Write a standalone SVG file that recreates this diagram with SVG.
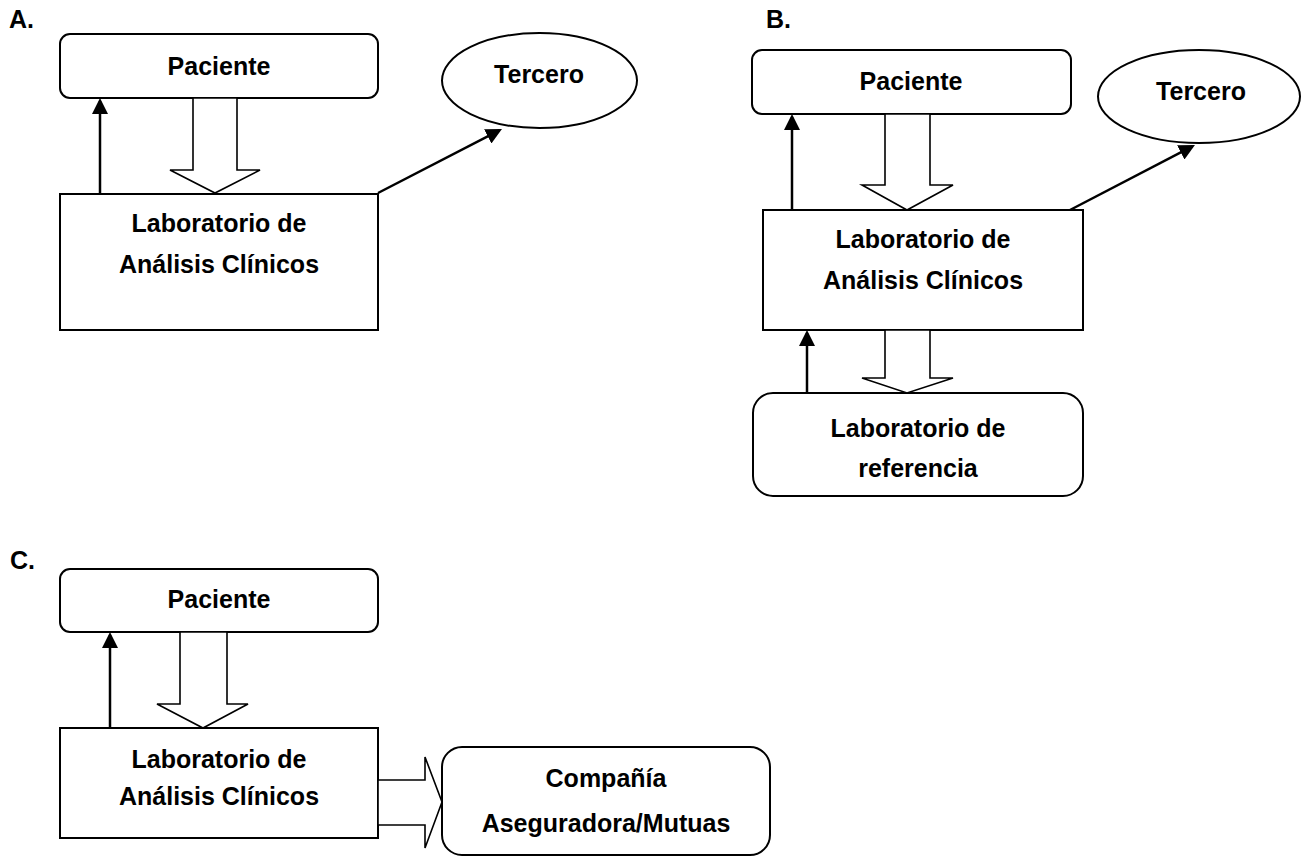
<svg xmlns="http://www.w3.org/2000/svg" width="1310" height="857" viewBox="0 0 1310 857">
<style>
  .box{fill:#fff;stroke:#000;stroke-width:2}
  .blk{fill:#fff;stroke:#000;stroke-width:1.6;stroke-linejoin:miter}
  .ln{fill:none;stroke:#000;stroke-width:2.5}
  text{font-family:"Liberation Sans",Arial,sans-serif;font-weight:bold;font-size:25px;fill:#000}
  .c{text-anchor:middle}
</style>
<defs>
  <marker id="ah" viewBox="0 0 16 16" refX="13" refY="8" markerWidth="16" markerHeight="16" markerUnits="userSpaceOnUse" orient="auto">
    <path d="M0,0 L16,8 L0,16 z" fill="#000"/>
  </marker>
</defs>
<rect width="1310" height="857" fill="#fff"/>

<text x="9" y="28">A.</text>
<text x="766" y="28">B.</text>
<text x="10" y="569">C.</text>

<g id="pacienteA"><rect class="box" x="60" y="34" width="318" height="64" rx="10"/><text class="c" x="219" y="75">Paciente</text></g>
<g id="terceroA"><ellipse class="box" cx="539.5" cy="80.5" rx="97.5" ry="47.5" stroke-width="1.8"/><text class="c" x="539" y="83">Tercero</text></g>
<g id="labA"><rect class="box" x="60" y="194" width="318" height="136"/><text class="c" x="219" y="232">Laboratorio de</text><text class="c" x="219" y="273">Análisis Clínicos</text></g>

<g id="pacienteB"><rect class="box" x="752" y="50" width="319" height="64" rx="10"/><text class="c" x="911" y="90">Paciente</text></g>
<g id="terceroB"><ellipse class="box" cx="1199" cy="96.5" rx="101" ry="46.5" stroke-width="1.8"/><text class="c" x="1201" y="100">Tercero</text></g>
<g id="labB"><rect class="box" x="763" y="210" width="320" height="120"/><text class="c" x="923" y="248">Laboratorio de</text><text class="c" x="923" y="289">Análisis Clínicos</text></g>
<g id="labRefB"><rect class="box" x="753" y="393" width="330" height="103" rx="20"/><text class="c" x="918" y="437">Laboratorio de</text><text class="c" x="918" y="477">referencia</text></g>

<g id="pacienteC"><rect class="box" x="60" y="569" width="318" height="63" rx="10"/><text class="c" x="219" y="608">Paciente</text></g>
<g id="labC"><rect class="box" x="60" y="728" width="318" height="110"/><text class="c" x="219" y="768">Laboratorio de</text><text class="c" x="219" y="805">Análisis Clínicos</text></g>
<g id="companiaC"><rect class="box" x="442" y="747" width="328" height="108" rx="20"/><text class="c" x="606" y="787">Compañía</text><text class="c" x="606" y="832">Aseguradora/Mutuas</text></g>

<g id="connectors">
  <line class="ln" x1="100" y1="194" x2="100" y2="101" marker-end="url(#ah)"/>
  <line class="ln" x1="378" y1="193" x2="499.3" y2="130.4" marker-end="url(#ah)"/>
  <path class="blk" d="M193,98 L237,98 L237,170 L260,170 L215,193 L170,170 L193,170 Z"/>

  <line class="ln" x1="792" y1="210" x2="792" y2="117" marker-end="url(#ah)"/>
  <line class="ln" x1="1070" y1="210" x2="1192.3" y2="146.4" marker-end="url(#ah)"/>
  <path class="blk" d="M885,114 L930,114 L930,185 L953,185 L907,210 L862,185 L885,185 Z"/>
  <line class="ln" x1="807" y1="393" x2="807" y2="333" marker-end="url(#ah)"/>
  <path class="blk" d="M885,330 L930,330 L930,378 L953,378 L907,393 L862,378 L885,378 Z"/>

  <line class="ln" x1="110" y1="728" x2="110" y2="635" marker-end="url(#ah)"/>
  <path class="blk" d="M180,632 L227,632 L227,704 L248,704 L203,728 L157,704 L180,704 Z"/>
  <path class="blk" d="M378,780 L425,780 L425,757 L442,802 L425,848 L425,825 L378,825 Z"/>
</g>
</svg>
